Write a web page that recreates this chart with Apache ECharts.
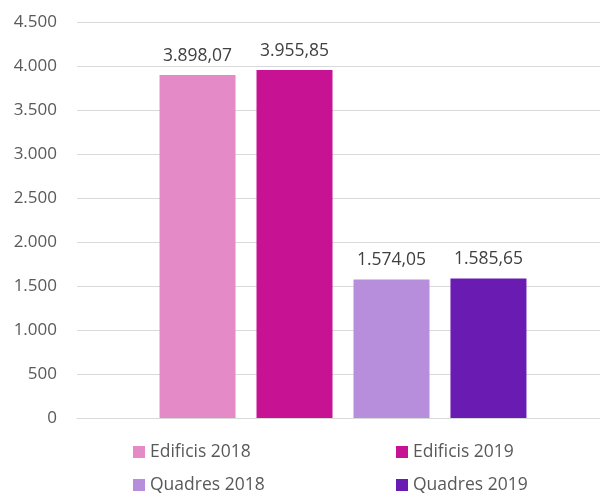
<!DOCTYPE html>
<html>
<head>
<meta charset="utf-8">
<script src="https://cdn.jsdelivr.net/npm/echarts@6/dist/echarts.min.js"></script>
<style>html,body{margin:0;padding:0;background:#fff}#c{width:600px;height:493px}</style>
</head>
<body>
<div id="c"></div>
<script>
var categories = [''];
var seriesNames = ['Edificis 2018', 'Edificis 2019', 'Quadres 2018', 'Quadres 2019'];
var seriesValues = [3898.07, 3955.85, 1574.05, 1585.65];
var seriesColors = ['#E48AC7', '#C71293', '#B78EDB', '#6A1BB2'];
var yTicks = [0, 500, 1000, 1500, 2000, 2500, 3000, 3500, 4000, 4500];

function thousands(n) {
  return String(n).replace(/\B(?=(\d{3})+(?!\d))/g, '.');
}
function fmt2(v) {
  var parts = v.toFixed(2).split('.');
  return thousands(parts[0]) + ',' + parts[1];
}

var FONT = 'Open Sans';
var chart = echarts.init(document.getElementById('c'));
var series = seriesNames.map(function (name, i) {
  return {
    name: name,
    type: 'bar',
    data: [seriesValues[i]],
    barWidth: 76,
    barGap: '27.6%',
    itemStyle: { color: seriesColors[i] },
    label: {
      show: true,
      position: 'top',
      distance: 10,
      color: '#404040',
      fontFamily: FONT,
      fontSize: 17.5,
      formatter: function (p) { return fmt2(p.value); }
    }
  };
});

var legendPos = [[133, 443], [396, 443], [133, 476], [396, 476]];
var legends = seriesNames.map(function (name, i) {
  return {
    data: [name],
    left: legendPos[i][0], top: legendPos[i][1],
    icon: 'rect', itemWidth: 12, itemHeight: 12, itemGap: 5,
    padding: 0,
    textStyle: { color: '#595959', fontFamily: FONT, fontSize: 17.5, lineHeight: 18 }
  };
});

chart.setOption({
  animation: false,
  grid: { left: 77, width: 532, top: 22, bottom: 75, outerBoundsMode: 'none', containLabel: false },
  xAxis: {
    type: 'category',
    data: categories,
    axisLine: { lineStyle: { color: '#d9d9d9', width: 1 } },
    axisTick: { show: false },
    axisLabel: { show: false }
  },
  yAxis: {
    type: 'value',
    min: yTicks[0],
    max: yTicks[yTicks.length - 1],
    interval: 500,
    axisLine: { show: false },
    axisTick: { show: false },
    splitLine: { lineStyle: { color: '#d9d9d9', width: 1 } },
    axisLabel: {
      margin: 20,
      color: '#595959',
      fontFamily: FONT,
      fontSize: 17,
      formatter: function (v) { return thousands(v); }
    }
  },
  legend: legends,
  series: series
});
</script>
</body>
</html>
